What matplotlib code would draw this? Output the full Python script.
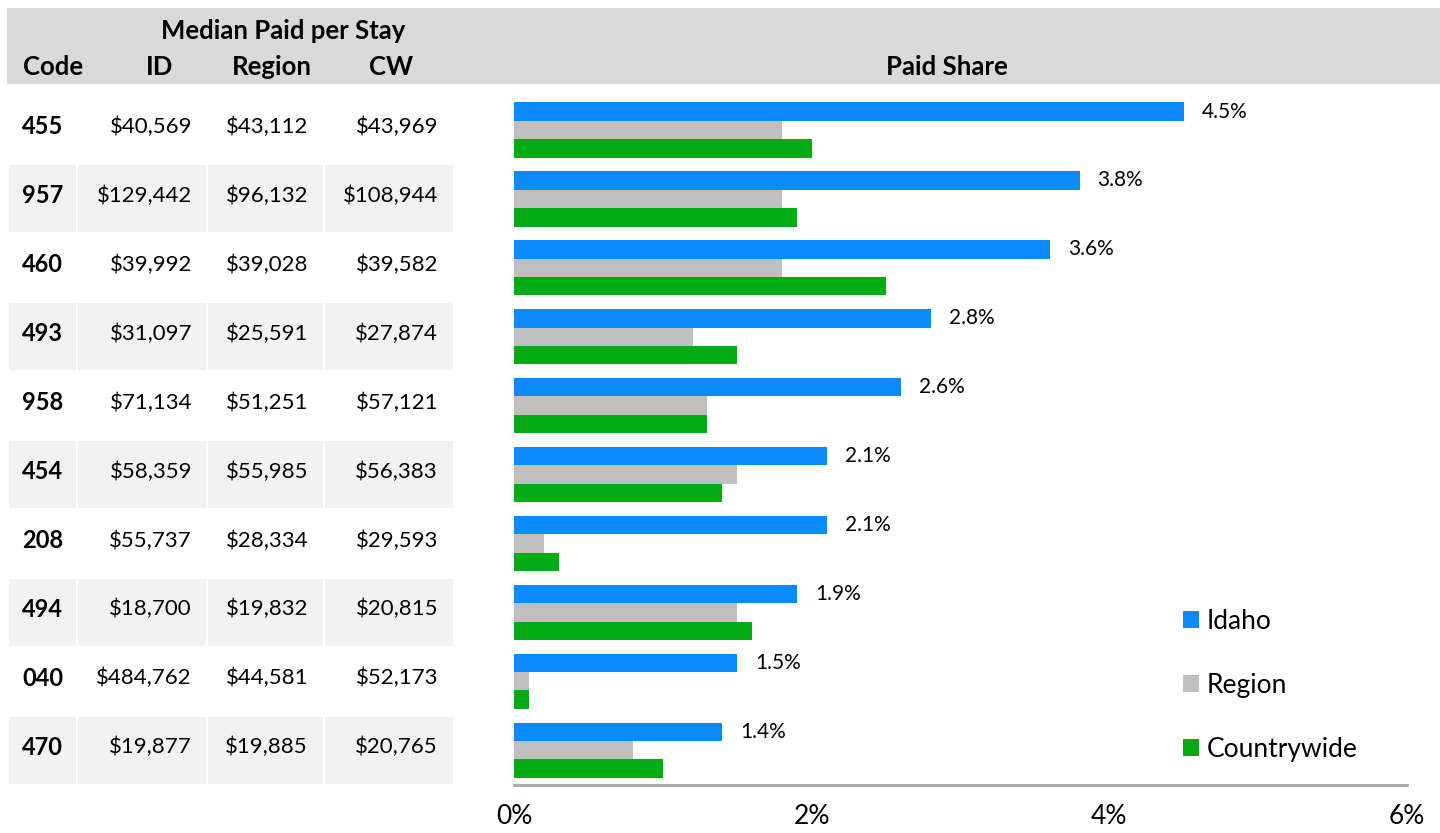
import matplotlib
matplotlib.use("Agg")
import matplotlib.pyplot as plt
from matplotlib.patches import Rectangle
import numpy as np

plt.rcParams['font.family'] = ['Lato', 'DejaVu Sans']

# ---------------- data ----------------
codes = ["455", "957", "460", "493", "958", "454", "208", "494", "040", "470"]
med_id = [40569, 129442, 39992, 31097, 71134, 58359, 55737, 18700, 484762, 19877]
med_region = [43112, 96132, 39028, 25591, 51251, 55985, 28334, 19832, 44581, 19885]
med_cw = [43969, 108944, 39582, 27874, 57121, 56383, 29593, 20815, 52173, 20765]
share_idaho = [4.5, 3.8, 3.6, 2.8, 2.6, 2.1, 2.1, 1.9, 1.5, 1.4]
share_region = [1.8, 1.8, 1.8, 1.2, 1.3, 1.5, 0.2, 1.5, 0.1, 0.8]
share_cw = [2.0, 1.9, 2.5, 1.5, 1.3, 1.4, 0.3, 1.6, 0.1, 1.0]
series_names = ["Idaho", "Region", "Countrywide"]
series_colors = ["#0A8AFF", "#BFBFBF", "#00AB14"]
xticks = [0, 2, 4, 6]
table_headers = ["Code", "ID", "Region", "CW"]
group_header = "Median Paid per Stay"
chart_header = "Paid Share"

# ---------------- layout helpers ----------------
W, H = 1440, 833
fig = plt.figure(figsize=(W / 100, H / 100), dpi=100)


def fx(px):
    return px / W


def fy(py):
    return 1 - py / H


row_c0, row_step = 130.0, 68.9   # pixel centre of first row, spacing
n = len(codes)

# header band
fig.patches.append(Rectangle((fx(7), fy(84)), fx(1440) - fx(7), fy(8) - fy(84),
                             transform=fig.transFigure, facecolor="#D9D9D9",
                             edgecolor="none", zorder=0))

hdr_kw = dict(fontsize=18.5, fontweight="bold", color="black", va="center")
fig.text(fx(283), fy(31), group_header, ha="center", **hdr_kw)
fig.text(fx(23), fy(67), table_headers[0], ha="left", **hdr_kw)
fig.text(fx(160), fy(67), table_headers[1], ha="center", **hdr_kw)
fig.text(fx(272), fy(67), table_headers[2], ha="center", **hdr_kw)
fig.text(fx(391), fy(67), table_headers[3], ha="center", **hdr_kw)
fig.text(fx(947), fy(67), chart_header, ha="center", **hdr_kw)

# table
col_bounds = [(9, 76), (78, 206), (208, 323), (325, 453)]
val_right = [192, 308, 438]
for i in range(n):
    yc = row_c0 + i * row_step
    if i % 2 == 1:
        for (x0, x1) in col_bounds:
            fig.patches.append(Rectangle((fx(x0), fy(yc + 33.5)), fx(x1) - fx(x0),
                                         fy(yc - 33.5) - fy(yc + 33.5),
                                         transform=fig.transFigure,
                                         facecolor="#F2F2F2", edgecolor="none",
                                         zorder=0))
    ty = yc - 3
    fig.text(fx(22), fy(ty), codes[i], ha="left", va="center", fontsize=17,
             fontweight="bold")
    for xr, arr in zip(val_right, [med_id, med_region, med_cw]):
        fig.text(fx(xr), fy(ty), f"${arr[i]:,}", ha="right", va="center",
                 fontsize=16)

# ---------------- bar chart ----------------
ax_left, ax_right = 514, 1407
ax_bottom, ax_top = 785, 88
ax = fig.add_axes([fx(ax_left), fy(ax_bottom), fx(ax_right) - fx(ax_left),
                   fy(ax_top) - fy(ax_bottom)])
ax.set_xlim(0, 6)
ylo = (ax_bottom - row_c0) / row_step
yhi = (ax_top - row_c0) / row_step
ax.set_ylim(ylo, yhi)

y = np.arange(n)
bh = 18.4 / row_step
offsets = [-bh, 0, bh]
containers = []
for vals, name, col, off in zip([share_idaho, share_region, share_cw],
                                series_names, series_colors, offsets):
    c = ax.barh(y + off, vals, height=bh, color=col, label=name,
                edgecolor="none")
    containers.append(c)

ax.bar_label(containers[0], labels=[f"{v:.1f}%" for v in share_idaho],
             padding=13, fontsize=15, color="black")

ax.set_xticks(xticks)
ax.set_xticklabels([f"{t}%" for t in xticks], fontsize=19)
ax.set_yticks([])
ax.tick_params(axis="x", length=0, pad=14)
for s in ["top", "right", "left"]:
    ax.spines[s].set_visible(False)
ax.spines["bottom"].set_color("#A6A6A6")
ax.spines["bottom"].set_linewidth(2)
ax.patch.set_alpha(0)

leg = ax.legend(loc="upper left", bbox_to_anchor=(fx(1183), fy(609)),
                bbox_transform=fig.transFigure, frameon=False, fontsize=19,
                handlelength=0.6, handleheight=0.6, handletextpad=0.3,
                labelspacing=1.48, borderaxespad=0, borderpad=0)

fig.savefig("out.png", dpi=100)
